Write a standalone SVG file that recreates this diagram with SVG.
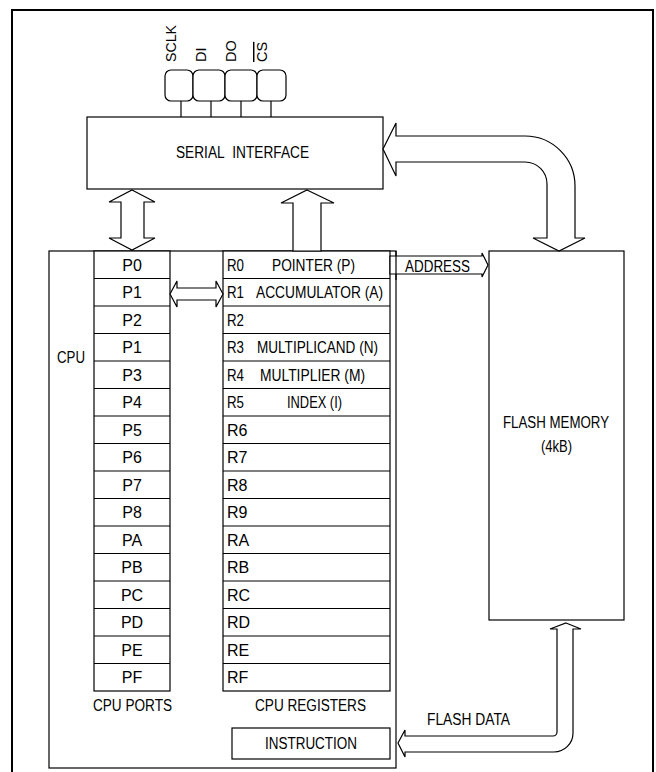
<svg xmlns="http://www.w3.org/2000/svg" width="656" height="772" viewBox="0 0 656 772">
<style>
.b{fill:#fff;stroke:#000;stroke-width:1.2}
.l{fill:none;stroke:#000;stroke-width:1.2}
.a{fill:#fff;stroke:#000;stroke-width:1.2;stroke-linejoin:miter}
text{font-family:"Liberation Sans",Arial,sans-serif;font-size:16px;fill:#000}
.pin{font-size:14.5px}
.c{text-anchor:middle}
</style>
<rect x="0" y="0" width="656" height="772" fill="#fff"/>
<rect x="12" y="10" width="641" height="780" fill="none" stroke="#000" stroke-width="2"/>

<g id="pins">
  <g id="pin-sclk">
    <rect class="b" x="165" y="70" width="28" height="31" rx="6"/>
    <line class="l" x1="181" y1="101" x2="181" y2="117"/>
    <text class="pin" transform="translate(176,62) rotate(-90)" textLength="37" lengthAdjust="spacingAndGlyphs">SCLK</text>
  </g>
  <g id="pin-di">
    <rect class="b" x="193" y="70" width="32" height="31" rx="6"/>
    <line class="l" x1="211" y1="101" x2="211" y2="117"/>
    <text class="pin" transform="translate(206,62) rotate(-90)">DI</text>
  </g>
  <g id="pin-do">
    <rect class="b" x="225" y="70" width="32" height="31" rx="6"/>
    <line class="l" x1="241" y1="101" x2="241" y2="117"/>
    <text class="pin" transform="translate(236,62) rotate(-90)">DO</text>
  </g>
  <g id="pin-cs">
    <rect class="b" x="257" y="70" width="29" height="31" rx="6"/>
    <line class="l" x1="271" y1="101" x2="271" y2="117"/>
    <text class="pin" transform="translate(267,62) rotate(-90)" text-decoration="overline">CS</text>
  </g>
</g>

<g id="serial-interface">
  <rect class="b" x="87" y="117" width="296" height="72"/>
  <text x="176" y="158" textLength="133" lengthAdjust="spacingAndGlyphs">SERIAL&#160; INTERFACE</text>
</g>

<g id="cpu">
  <rect class="b" x="49" y="251" width="347" height="517"/>
  <text x="57" y="363" textLength="28" lengthAdjust="spacingAndGlyphs">CPU</text>
</g>

<g id="cpu-ports">
  <rect class="b" x="94" y="251" width="76" height="440"/>
  <g class="l">
    <line x1="94" y1="278.5" x2="170" y2="278.5"/><line x1="94" y1="306" x2="170" y2="306"/>
    <line x1="94" y1="333.5" x2="170" y2="333.5"/><line x1="94" y1="361" x2="170" y2="361"/>
    <line x1="94" y1="388.5" x2="170" y2="388.5"/><line x1="94" y1="416" x2="170" y2="416"/>
    <line x1="94" y1="443.5" x2="170" y2="443.5"/><line x1="94" y1="471" x2="170" y2="471"/>
    <line x1="94" y1="498.5" x2="170" y2="498.5"/><line x1="94" y1="526" x2="170" y2="526"/>
    <line x1="94" y1="553.5" x2="170" y2="553.5"/><line x1="94" y1="581" x2="170" y2="581"/>
    <line x1="94" y1="608.5" x2="170" y2="608.5"/><line x1="94" y1="636" x2="170" y2="636"/>
    <line x1="94" y1="663.5" x2="170" y2="663.5"/>
  </g>
  <g>
    <text class="c" x="132" y="270.5">P0</text>
    <text class="c" x="132" y="298">P1</text>
    <text class="c" x="132" y="325.5">P2</text>
    <text class="c" x="132" y="353">P1</text>
    <text class="c" x="132" y="380.5">P3</text>
    <text class="c" x="132" y="408">P4</text>
    <text class="c" x="132" y="435.5">P5</text>
    <text class="c" x="132" y="463">P6</text>
    <text class="c" x="132" y="490.5">P7</text>
    <text class="c" x="132" y="518">P8</text>
    <text class="c" x="132" y="545.5">PA</text>
    <text class="c" x="132" y="573">PB</text>
    <text class="c" x="132" y="600.5">PC</text>
    <text class="c" x="132" y="628">PD</text>
    <text class="c" x="132" y="655.5">PE</text>
    <text class="c" x="132" y="683">PF</text>
  </g>
  <text x="93" y="711" textLength="79" lengthAdjust="spacingAndGlyphs">CPU PORTS</text>
</g>

<g id="cpu-registers">
  <rect class="b" x="223" y="251" width="167" height="440"/>
  <g class="l">
    <line x1="223" y1="278.5" x2="390" y2="278.5"/><line x1="223" y1="306" x2="390" y2="306"/>
    <line x1="223" y1="333.5" x2="390" y2="333.5"/><line x1="223" y1="361" x2="390" y2="361"/>
    <line x1="223" y1="388.5" x2="390" y2="388.5"/><line x1="223" y1="416" x2="390" y2="416"/>
    <line x1="223" y1="443.5" x2="390" y2="443.5"/><line x1="223" y1="471" x2="390" y2="471"/>
    <line x1="223" y1="498.5" x2="390" y2="498.5"/><line x1="223" y1="526" x2="390" y2="526"/>
    <line x1="223" y1="553.5" x2="390" y2="553.5"/><line x1="223" y1="581" x2="390" y2="581"/>
    <line x1="223" y1="608.5" x2="390" y2="608.5"/><line x1="223" y1="636" x2="390" y2="636"/>
    <line x1="223" y1="663.5" x2="390" y2="663.5"/>
  </g>
  <text x="227" y="270.5" textLength="17" lengthAdjust="spacingAndGlyphs">R0</text>
  <text x="272" y="270.5" textLength="83" lengthAdjust="spacingAndGlyphs">POINTER (P)</text>
  <text x="227" y="298" textLength="17" lengthAdjust="spacingAndGlyphs">R1</text>
  <text x="256" y="298" textLength="127" lengthAdjust="spacingAndGlyphs">ACCUMULATOR (A)</text>
  <text x="227" y="325.5" textLength="17" lengthAdjust="spacingAndGlyphs">R2</text>
  <text x="227" y="353" textLength="17" lengthAdjust="spacingAndGlyphs">R3</text>
  <text x="257" y="353" textLength="121" lengthAdjust="spacingAndGlyphs">MULTIPLICAND (N)</text>
  <text x="227" y="380.5" textLength="17" lengthAdjust="spacingAndGlyphs">R4</text>
  <text x="260" y="380.5" textLength="105" lengthAdjust="spacingAndGlyphs">MULTIPLIER (M)</text>
  <text x="227" y="408" textLength="17" lengthAdjust="spacingAndGlyphs">R5</text>
  <text x="287" y="408" textLength="55" lengthAdjust="spacingAndGlyphs">INDEX (I)</text>
  <text x="227" y="435.5">R6</text>
  <text x="227" y="463">R7</text>
  <text x="227" y="490.5">R8</text>
  <text x="227" y="518">R9</text>
  <text x="227" y="545.5">RA</text>
  <text x="227" y="573">RB</text>
  <text x="227" y="600.5">RC</text>
  <text x="227" y="628">RD</text>
  <text x="227" y="655.5">RE</text>
  <text x="227" y="683">RF</text>
  <text x="255" y="711" textLength="111" lengthAdjust="spacingAndGlyphs">CPU REGISTERS</text>
</g>

<g id="instruction">
  <rect class="b" x="232" y="728" width="158" height="31"/>
  <text x="265" y="749" textLength="92" lengthAdjust="spacingAndGlyphs">INSTRUCTION</text>
</g>

<g id="flash-memory">
  <rect class="b" x="489" y="251" width="135" height="369"/>
  <text x="503" y="428" textLength="106" lengthAdjust="spacingAndGlyphs">FLASH MEMORY</text>
  <text x="541" y="452" textLength="31" lengthAdjust="spacingAndGlyphs">(4kB)</text>
</g>

<g id="connectors">
  <polygon class="a" points="132,190 155,202 144,202 144,238 155,238 132,250 109,238 121,238 121,202 109,202"/>
  <polygon class="a" points="307,190 334,203 321,203 321,251 293,251 293,203 281,203"/>
  <polygon class="a" points="170,294 177,281 177,288 216,288 216,281 223,294 216,307 216,300 177,300 177,307"/>
  <polygon class="a" points="390,256 482,256 482,253 488,265 482,277 482,274 390,274"/>
  <line class="l" x1="396" y1="251" x2="396" y2="280"/>
  <path class="a" d="M383,149 L396,123 L396,136 L525,136 A50,50 0 0 1 575,186 L575,238 L585,238 L559,251 L533,238 L547,238 L547,184 A22,22 0 0 0 525,162 L396,162 L396,176 Z"/>
  <path class="a" d="M566,623 L581,629 L573,629 L573,733 A19,19 0 0 1 554,752 L405,752 L405,757 L398,743 L405,730 L405,736 L553,736 A4,4 0 0 0 557,732 L557,629 L550,629 Z"/>
  <text x="405" y="272" textLength="65" lengthAdjust="spacingAndGlyphs">ADDRESS</text>
  <text x="427" y="725" textLength="83" lengthAdjust="spacingAndGlyphs">FLASH DATA</text>
</g>
</svg>
